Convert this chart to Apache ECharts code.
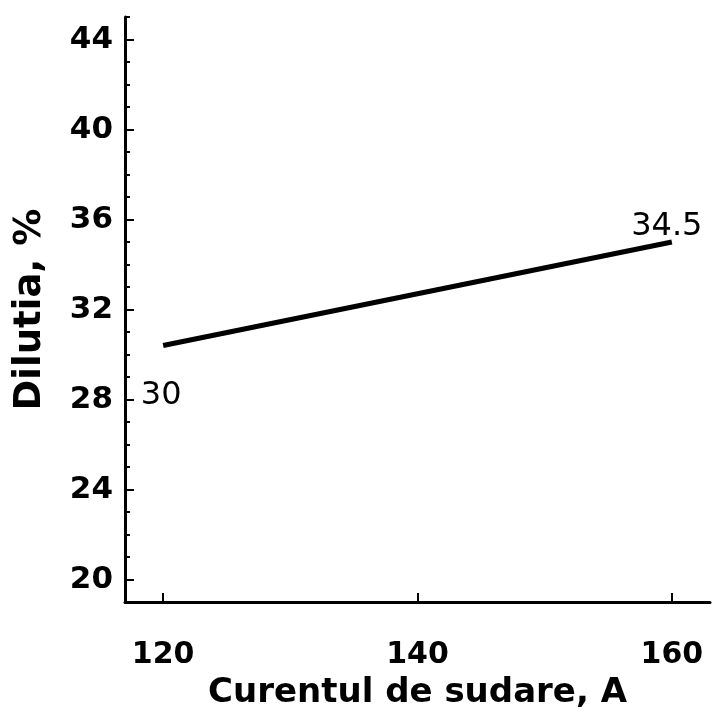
<!DOCTYPE html>
<html>
<head>
<meta charset="utf-8">
<script src="https://cdn.jsdelivr.net/npm/echarts@6/dist/echarts.min.js"></script>
<style>html,body{margin:0;padding:0;background:#fff;}#c{width:712px;height:724px;}</style>
</head>
<body>
<div id="c"></div>
<script>
const xValues = [120, 160];
const yValues = [30.4, 35.0];
const pointLabels = ['30', '34.5'];
const xTicks = [120, 140, 160];
const yTicks = [20, 24, 28, 32, 36, 40, 44];
const xName = 'Curentul de sudare, A';
const yName = 'Dilutia, %';

const FONT = '"DejaVu Sans", Verdana, sans-serif';
const labelCfg = [
  { position: 'bottom', offset: [-2, 29] },
  { position: 'top', offset: [-5, 6] }
];
const chart = echarts.init(document.getElementById('c'));
chart.setOption({
  animation: false,
  grid: { left: 125, right: 2, top: 17, bottom: 122, containLabel: false, outerBoundsMode: 'none' },
  xAxis: {
    type: 'value', min: 117, max: 163,
    name: xName, nameLocation: 'middle', nameGap: 74,
    nameTextStyle: { fontFamily: FONT, fontSize: 34, fontWeight: 'bold', color: '#000' },
    axisLine: { show: true, onZero: false, lineStyle: { color: '#000', width: 3 } },
    axisTick: { show: true, inside: true, length: 9, lineStyle: { color: '#000', width: 2 }, customValues: xTicks },
    axisLabel: { customValues: xTicks, margin: 38, fontFamily: FONT, fontSize: 30, fontWeight: 'bold', color: '#000' },
    splitLine: { show: false }
  },
  yAxis: [{
    type: 'value', min: 19, max: 45,
    name: yName, nameLocation: 'middle', nameGap: 76,
    nameTextStyle: { fontFamily: FONT, fontSize: 37, fontWeight: 'bold', color: '#000' },
    axisLine: { show: true, onZero: false, lineStyle: { color: '#000', width: 3 } },
    axisTick: { show: true, inside: true, length: 9, lineStyle: { color: '#000', width: 2 }, customValues: yTicks },
    axisLabel: { customValues: yTicks, margin: 12, fontFamily: FONT, fontSize: 31, fontWeight: 'bold', color: '#000' },
    splitLine: { show: false }
  }, {
    type: 'value', min: 19, max: 45, interval: 1, position: 'left',
    axisLine: { show: false },
    axisTick: { show: true, inside: true, length: 5, lineStyle: { color: '#000', width: 2 } },
    axisLabel: { show: false },
    splitLine: { show: false }
  }],
  series: [{
    type: 'line',
    yAxisIndex: 0,
    symbol: 'circle', symbolSize: 0.1, showSymbol: true,
    lineStyle: { color: '#000', width: 5 },
    itemStyle: { color: '#000' },
    data: xValues.map((x, i) => ({
      value: [x, yValues[i]],
      label: {
        show: true, formatter: pointLabels[i],
        position: labelCfg[i].position, offset: labelCfg[i].offset,
        fontFamily: FONT, fontSize: 32, color: '#000'
      }
    }))
  }]
});
</script>
</body>
</html>
